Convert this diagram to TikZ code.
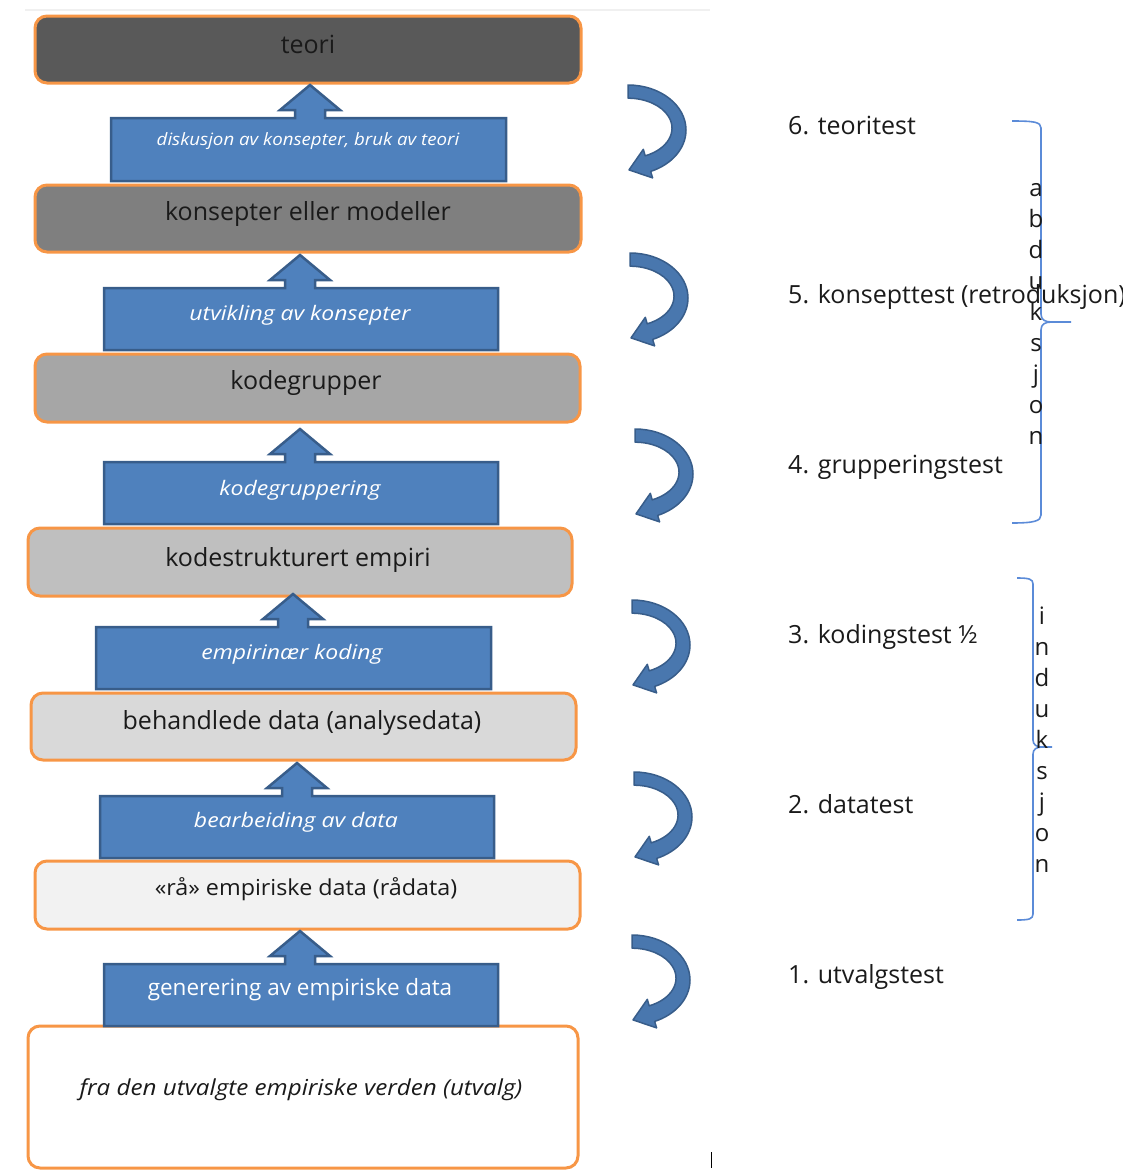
\documentclass[tikz,border=0pt]{standalone}
\usepackage{fontspec}
\setmainfont{Open Sans}
\definecolor{orng}{HTML}{F79646}
\definecolor{bluefill}{HTML}{4F81BD}
\definecolor{blueedge}{HTML}{385D8A}
\definecolor{bracecol}{HTML}{5B8BD8}
\definecolor{txt}{HTML}{1A1A1A}
\newcommand{\blockarrow}[5]{%
  \filldraw[bluearrow] (#1,#3) -- (#5-15,#3) -- (#5-15,#3-8) -- (#5-30,#3-8) -- (#5,#3-33)
    -- (#5+30,#3-8) -- (#5+15,#3-8) -- (#5+15,#3) -- (#2,#3) -- (#2,#4) -- (#1,#4) -- cycle;}
\newcommand{\curvedarrow}[2]{%
  \begin{scope}[shift={(#1,#2)}]
  \filldraw[curvarrow] (0,-45) arc[start angle=-90, end angle=67, x radius=58, y radius=45]
    -- (24.6,47.9) -- (1.0,39.9) -- (15.3,19.35) -- (17.2,25.8)
    arc[start angle=67, end angle=-90, x radius=44, y radius=30] -- cycle;
  \end{scope}}
\begin{document}
\begin{tikzpicture}[x=1pt,y=-1pt,
  graybox/.style={draw=orng, line width=3pt, rounded corners=12pt, inner sep=0pt},
  bluearrow/.style={fill=bluefill, draw=blueedge, line width=2.5pt, line join=miter},
  curvarrow/.style={fill=bluefill!92!black, draw=blueedge, line width=1.5pt, line join=round},
  boxtext/.style={text=txt, font=\fontsize{25}{29}\selectfont, inner sep=0pt},
  arrowtext/.style={text=white, font=\fontsize{20}{24}\selectfont\itshape\addfontfeature{FakeStretch=1.15}, inner sep=0pt},
  sidetext/.style={text=txt, font=\fontsize{25}{29}\selectfont, inner sep=0pt, anchor=base west},
  lettertext/.style={text=txt, font=\fontsize{24}{28}\selectfont, inner sep=0pt, anchor=base},
  bracestyle/.style={draw=bracecol, line width=1.6pt}
]
\useasboundingbox (0,0) rectangle (1122,1170);
\draw[gray!12, line width=1.5pt] (25,10) -- (710,10);
\draw[black, line width=1pt] (711,1152) -- (711,1168);

% gray boxes
\node[graybox, fill={rgb,255:red,89;green,89;blue,89}, minimum width=546pt, minimum height=67pt] (b7) at (308,49.5) {};
\node[graybox, fill={rgb,255:red,127;green,127;blue,127}, minimum width=546pt, minimum height=67pt] (b6) at (308,218.5) {};
\node[graybox, fill={rgb,255:red,166;green,166;blue,166}, minimum width=545pt, minimum height=68pt] (b5) at (307.5,388) {};
\node[graybox, fill={rgb,255:red,191;green,191;blue,191}, minimum width=544pt, minimum height=68pt] (b4) at (300,562) {};
\node[graybox, fill={rgb,255:red,217;green,217;blue,217}, minimum width=545pt, minimum height=67pt] (b3) at (303.5,726.5) {};
\node[graybox, fill={rgb,255:red,242;green,242;blue,242}, minimum width=545pt, minimum height=68pt] (b2) at (307.5,895) {};
\node[graybox, fill=white, minimum width=550pt, minimum height=142pt] (b1) at (303,1097) {};

\node[boxtext] (t7) at (308,44) {teori};
\node[boxtext] (t6) at (308,214.5) {konsepter eller modeller};
\node[boxtext] (t5) at (306,383.5) {kodegrupper};
\node[boxtext] (t4) at (298,559.5) {kodestrukturert empiri};
\node[boxtext] (t3) at (302,722.5) {behandlede data (analysedata)};
\node[boxtext, font=\fontsize{22}{26}\selectfont\addfontfeature{FakeStretch=1.06}] (t2) at (306,889) {«rå» empiriske data (rådata)};
\node[boxtext, font=\fontsize{22}{26}\selectfont\itshape\addfontfeature{FakeStretch=1.1}] (t1) at (301,1090) {fra den utvalgte empiriske verden (utvalg)};

% block arrows
\blockarrow{111}{506}{118}{181}{310}
\blockarrow{104}{498}{288}{350}{300}
\blockarrow{104}{498}{462}{524}{300}
\blockarrow{96}{491}{627}{689}{293}
\blockarrow{100}{494}{796}{858}{297}
\blockarrow{104}{498}{964}{1026}{300}

\node[arrowtext, font=\fontsize{17}{20}\selectfont\itshape\addfontfeature{FakeStretch=1.1}] (a6) at (308,141) {diskusjon av konsepter, bruk av teori};
\node[arrowtext] (a5) at (300,315) {utvikling av konsepter};
\node[arrowtext] (a4) at (300,490) {kodegruppering};
\node[arrowtext] (a3) at (292,654) {empirinær koding};
\node[arrowtext] (a2) at (296,822) {bearbeiding av data};
\node[arrowtext, font=\fontsize{22.5}{26}\selectfont] (a1) at (300,990) {generering av empiriske data};

% curved arrows
\curvedarrow{628}{130}
\curvedarrow{630}{298}
\curvedarrow{635}{474}
\curvedarrow{632}{645}
\curvedarrow{634}{817}
\curvedarrow{632}{980}

% side labels
\node[sidetext] (s6) at (788,134) {6. teoritest};
\node[sidetext] (s5) at (788,303) {5. konsepttest (retroduksjon)};
\node[sidetext] (s4) at (788,473) {4. grupperingstest};
\node[sidetext] (s3) at (788,643) {3. kodingstest ½};
\node[sidetext] (s2) at (788,813) {2. datatest};
\node[sidetext] (s1) at (788,983) {1. utvalgstest};

% braces
\draw[bracestyle] (1012,121) .. controls (1034,121) and (1041,122) .. (1041,128) -- (1041,314)
  .. controls (1041,320) and (1045,322) .. (1052,322) -- (1071,322);
\draw[bracestyle] (1052,322) .. controls (1045,322) and (1041,324) .. (1041,330) -- (1041,515)
  .. controls (1041,521) and (1034,523) .. (1012,523);
\draw[bracestyle] (1017,578) .. controls (1029,578) and (1033,579) .. (1033,584) -- (1033,740)
  .. controls (1033,745) and (1037,747) .. (1042,747) -- (1052,747);
\draw[bracestyle] (1042,747) .. controls (1037,747) and (1033,749) .. (1033,754) -- (1033,914)
  .. controls (1033,919) and (1029,920) .. (1017,920);

\foreach \l [count=\i from 0] in {a,b,d,u,k,s,j,o,n}
  \node[lettertext] (ab\i) at (1036,196+31.1*\i) {\l};
\foreach \l [count=\i from 0] in {i,n,d,u,k,s,j,o,n}
  \node[lettertext] (in\i) at (1042,624+31*\i) {\l};
\end{tikzpicture}
\end{document}
